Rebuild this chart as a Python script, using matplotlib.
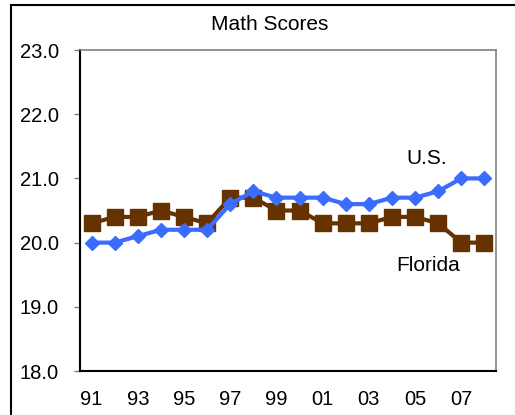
import matplotlib
matplotlib.use("Agg")
import matplotlib.pyplot as plt
from matplotlib.lines import Line2D

years = ["91", "92", "93", "94", "95", "96", "97", "98", "99", "00",
         "01", "02", "03", "04", "05", "06", "07", "08"]
us = [20.0, 20.0, 20.1, 20.2, 20.2, 20.2, 20.6, 20.8, 20.7, 20.7,
      20.7, 20.6, 20.6, 20.7, 20.7, 20.8, 21.0, 21.0]
florida = [20.3, 20.4, 20.4, 20.5, 20.4, 20.3, 20.7, 20.7, 20.5, 20.5,
           20.3, 20.3, 20.3, 20.4, 20.4, 20.3, 20.0, 20.0]
yticks = [18.0, 19.0, 20.0, 21.0, 22.0, 23.0]

plt.rcParams['font.family'] = ['Liberation Sans', 'DejaVu Sans']

W, H = 515, 415
fig = plt.figure(figsize=(W / 100, H / 100), dpi=100)
ax = fig.add_axes([80 / W, 1 - 371 / H, (496 - 80) / W, (371 - 50) / H])

x = list(range(len(years)))
ax.plot(x, florida, color='#663300', lw=3, marker='s', markersize=11,
        zorder=2)
ax.plot(x, us, color='#3A6CFF', lw=3, marker='D', markersize=7.5,
        zorder=3)

ax.set_xlim(-0.5, len(years) - 0.5)
ax.set_ylim(18, 23)
ax.set_yticks(yticks)
ax.set_yticklabels([f"{v:.1f}" for v in yticks], fontsize=14.5)
ax.set_xticks(x[::2])
ax.set_xticklabels(years[::2], fontsize=14.5)
ax.tick_params(axis='x', length=0, pad=14)
ax.tick_params(axis='y', length=4.3, width=1, color='#808080', pad=11)

for s in ['left', 'bottom']:
    ax.spines[s].set_color('black')
    ax.spines[s].set_linewidth(1.5)
for s in ['top', 'right']:
    ax.spines[s].set_color('#808080')
    ax.spines[s].set_linewidth(1.2)

ax.text(14.5, 21.31, "U.S.", fontsize=15, ha='center', va='center')
ax.text(14.55, 19.64, "Florida", fontsize=15, ha='center', va='center')

fig.text(270 / W, 1 - 25 / H, "Math Scores", fontsize=15, ha='center',
         va='center')

# outer chart frame (partially cropped)
fig.add_artist(Line2D([11 / W, 11 / W], [0, 1 - 5 / H],
                      transform=fig.transFigure, color='black', lw=1.5))
fig.add_artist(Line2D([11 / W, 1], [1 - 5 / H, 1 - 5 / H],
                      transform=fig.transFigure, color='black', lw=1.5))

fig.savefig("out.png", dpi=100)
